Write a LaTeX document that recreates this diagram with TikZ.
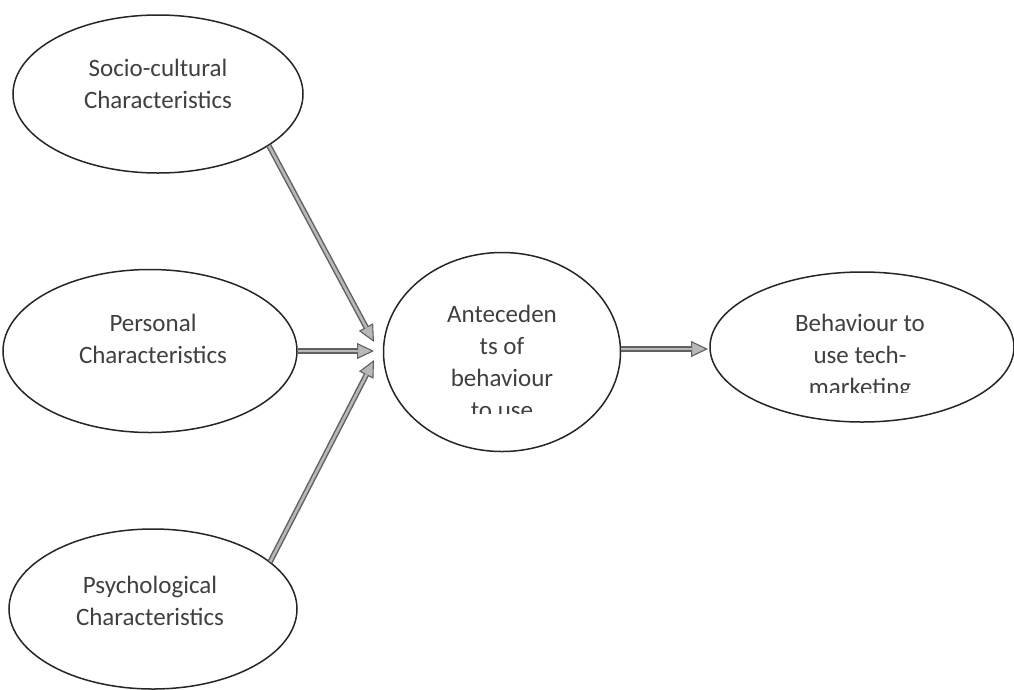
\documentclass[tikz,border=0pt]{standalone}
\usepackage{fontspec}
\setmainfont{Carlito}
\usetikzlibrary{shapes.geometric,arrows.meta}
\begin{document}
\begin{tikzpicture}[x=1pt,y=-1pt,
  oval/.style={draw=black!85, line width=1.5pt, ellipse, inner sep=0pt},
  lbl/.style={text=black!75, align=center, inner sep=0pt, font=\fontsize{25}{32}\selectfont},
  arr/.style={draw=black!62, line width=5.5pt,
    -{Triangle[length=17pt,width=16pt,line width=1.1pt,fill=black!28]},
    postaction={draw=black!28, line width=2.6pt, -, shorten >=16pt}}]
\useasboundingbox[fill=white] (0,0) rectangle (1014,689);
% ellipses
\node[oval, minimum width=290, minimum height=158] (soc) at (158,94) {};
\node[oval, minimum width=294, minimum height=163] (pers) at (150,351) {};
\node[oval, minimum width=288, minimum height=160] (psy) at (153,609) {};
\node[oval, minimum width=237, minimum height=199] (ante) at (502,352) {};
\node[oval, minimum width=304, minimum height=150] (beh) at (862,347) {};
% texts
\node[lbl] (socT) at (158,84) {Socio-cultural\\Characteristics};
\node[lbl] (persT) at (153,339) {Personal\\Characteristics};
\node[lbl] (psyT) at (150,601) {Psychological\\Characteristics};
\begin{scope}
\clip (385,250) rectangle (620,413);
\node[lbl] (anteT) at (502,362) {Anteceden\\ts of\\behaviour\\to use};
\end{scope}
\begin{scope}
\clip (715,270) rectangle (1010,392);
\node[lbl] (behT) at (860,357) {Behaviour to\\use tech-\\marketing};
\end{scope}
% arrows
\coordinate (tA) at (374,342);
\coordinate (tB) at (374,351);
\coordinate (tC) at (374,360);
\coordinate (tD) at (708,349);
\draw[arr] (soc.-25) -- (tA);
\draw[arr] (pers.east) -- (tB);
\draw[arr] (psy.22) -- (tC);
\draw[arr] (ante.east |- tD) -- (tD);
\end{tikzpicture}
\end{document}
